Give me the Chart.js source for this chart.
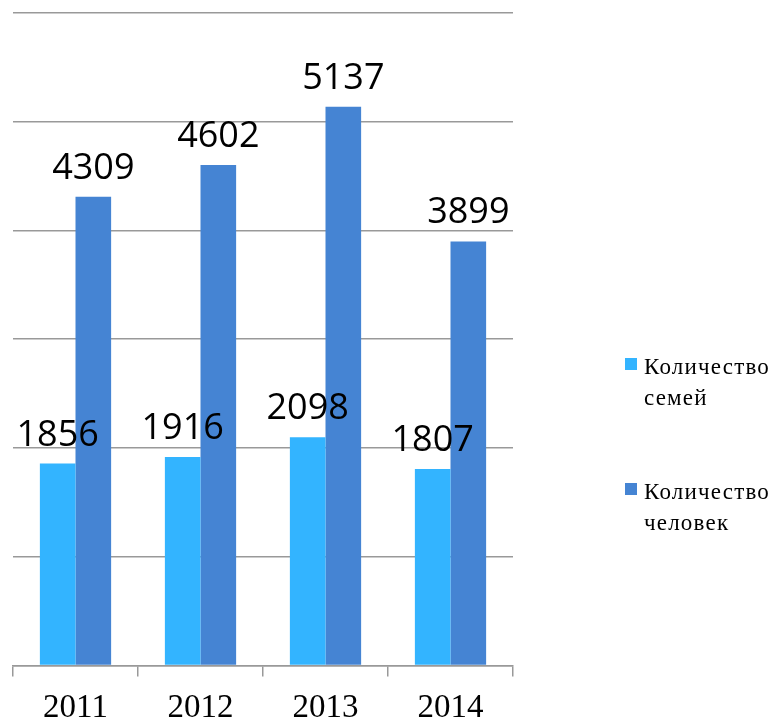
<!DOCTYPE html>
<html>
<head>
<meta charset="utf-8">
<script src="https://cdn.jsdelivr.net/npm/chart.js@4"></script>
<style>
  body { margin: 0; background: #fff; }
  #wrap { position: relative; width: 779px; height: 725px; }
  .leg { position: absolute; left: 625px; font-family: "Liberation Serif", "Times New Roman", serif; font-size: 23px; line-height: 31px; letter-spacing: 1.2px; color: #000; white-space: nowrap; }
  .leg span.box { position: absolute; left: 0; top: 7px; width: 12px; height: 12px; }
  .leg div.txt { margin-left: 19px; }
</style>
</head>
<body>
<div id="wrap">
  <canvas id="myChart" width="779" height="725"></canvas>
  <div class="leg" style="top:351px"><span class="box" style="background:#33B4FF"></span><div class="txt">Количество<br>семей</div></div>
  <div class="leg" style="top:476px"><span class="box" style="background:#4584D3"></span><div class="txt">Количество<br>человек</div></div>
</div>
<script>
// data
const years = ['2011', '2012', '2013', '2014'];
const families = [1856, 1916, 2098, 1807];
const people = [4309, 4602, 5137, 3899];
const seriesNames = ['Количество семей', 'Количество человек'];

// value labels above bars
const valueLabels = {
  id: 'valueLabels',
  afterDatasetsDraw(chart) {
    const ctx = chart.ctx;
    ctx.save();
    ctx.font = '36px "Open Sans", sans-serif';
    ctx.fillStyle = '#000';
    ctx.textAlign = 'center';
    ctx.textBaseline = 'alphabetic';
    chart.data.datasets.forEach((ds, i) => {
      chart.getDatasetMeta(i).data.forEach((bar, j) => {
        ctx.fillText(ds.data[j], bar.x, bar.y - 18);
      });
    });
    ctx.restore();
  }
};

const data = {
  labels: years,
  datasets: [{
    label: seriesNames[0],
    data: families,
    backgroundColor: '#33B4FF'
  }, {
    label: seriesNames[1],
    data: people,
    backgroundColor: '#4584D3'
  }]
};

const config = {
  type: 'bar',
  data,
  options: {
    responsive: false,
    animation: false,
    layout: { padding: { left: 13, top: 13, right: 266, bottom: -15 } },
    plugins: { legend: { display: false }, tooltip: { enabled: false } },
    datasets: { bar: { categoryPercentage: 0.57, barPercentage: 1 } },
    scales: {
      x: {
        grid: { offset: true, drawOnChartArea: false, drawTicks: true, tickLength: 11, color: '#999', lineWidth: 1.5 },
        border: { color: '#999', width: 1.5 },
        ticks: { color: '#000', padding: 12, font: { family: '"Liberation Serif", serif', size: 33, lineHeight: 1.2 } }
      },
      y: {
        min: 0,
        max: 6000,
        ticks: { display: false, stepSize: 1000 },
        grid: { color: '#999', lineWidth: 1.5, drawTicks: false },
        border: { display: false }
      }
    }
  },
  plugins: [valueLabels]
};

const myChart = new Chart(document.getElementById('myChart'), config);
</script>
</body>
</html>
